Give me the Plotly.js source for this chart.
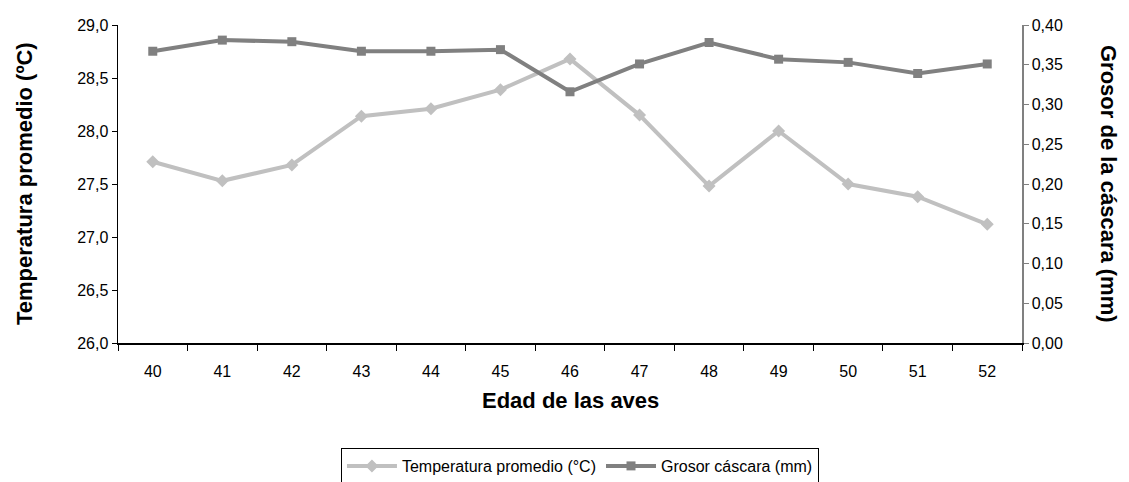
<!DOCTYPE html>
<html>
<head>
<meta charset="utf-8">
<script src="https://cdn.plot.ly/plotly-3.0.1.min.js"></script>
<style>html,body{margin:0;padding:0;background:#fff;}#chart{width:1129px;height:482px;}</style>
</head>
<body>
<div id="chart"></div>
<script>
const edades = ["40","41","42","43","44","45","46","47","48","49","50","51","52"];
const temperatura = [27.71, 27.53, 27.68, 28.14, 28.21, 28.39, 28.68, 28.15, 27.48, 28.00, 27.50, 27.38, 27.12];
const grosor = [0.367, 0.381, 0.379, 0.367, 0.367, 0.369, 0.316, 0.351, 0.378, 0.357, 0.353, 0.339, 0.351];
const tempTicks = [26.0, 26.5, 27.0, 27.5, 28.0, 28.5, 29.0];
const grosorTicks = [0, 0.05, 0.10, 0.15, 0.20, 0.25, 0.30, 0.35, 0.40];
const tituloX = "Edad de las aves";
const tituloY1 = "Temperatura promedio (ºC)";
const tituloY2 = "Grosor de la cáscara (mm)";

const font = "Liberation Sans, Arial, sans-serif";

const traces = [
  {
    x: edades, y: temperatura, name: "Temperatura promedio (°C)",
    type: "scatter", mode: "lines+markers",
    line: {color: "#C0C0C0", width: 4},
    marker: {symbol: "diamond", size: 10, color: "#C0C0C0"},
    yaxis: "y"
  },
  {
    x: edades, y: grosor, name: "Grosor cáscara (mm)",
    type: "scatter", mode: "lines+markers",
    line: {color: "#808080", width: 4},
    marker: {symbol: "square", size: 9, color: "#808080"},
    yaxis: "y2"
  }
];

const layout = {
  width: 1129, height: 482,
  separators: ",.",
  margin: {l: 118, r: 107, t: 25, b: 139, autoexpand: false},
  paper_bgcolor: "#fff", plot_bgcolor: "#fff",
  font: {family: font, size: 16, color: "#000"},
  showlegend: true,
  legend: {
    orientation: "h", x: 0.5137, xanchor: "center", xref: "container",
    y: 1 - 448/482, yanchor: "top", yref: "container",
    bordercolor: "#000", borderwidth: 1, font: {size: 16, family: font},
    itemwidth: 50, tracegroupgap: 0
  },
  xaxis: {
    type: "category", range: [-0.5, 12.5], automargin: false,
    showline: true, linecolor: "#000", linewidth: 1.5,
    ticks: "outside", tickson: "boundaries", ticklen: 6, tickcolor: "#000",
    showgrid: false, zeroline: false,
    tickfont: {size: 16, family: font},
    ticklabelstandoff: 13
  },
  yaxis: {
    range: [26, 29], tickvals: tempTicks, tickformat: ".1f", automargin: false,
    showline: true, linecolor: "#000", linewidth: 1.5,
    ticks: "outside", ticklen: 5, tickcolor: "#000",
    showgrid: false, zeroline: false,
    tickfont: {size: 16, family: font}
  },
  yaxis2: {
    overlaying: "y", side: "right", automargin: false,
    range: [0, 0.4], tickvals: grosorTicks, tickformat: ".2f",
    showline: true, linecolor: "#808080", linewidth: 1.5,
    ticks: "outside", ticklen: 5, tickcolor: "#808080",
    showgrid: false, zeroline: false,
    tickfont: {size: 16, family: font}
  },
  annotations: [
    {
      text: "<b>" + tituloX + "</b>",
      xref: "paper", yref: "paper", x: 0.5, y: 0, yshift: -57,
      xanchor: "center", yanchor: "middle", showarrow: false,
      font: {size: 22, family: font, color: "#000"}
    },
    {
      text: "<b>" + tituloY1 + "</b>", textangle: -90,
      xref: "paper", yref: "paper", x: 0, xshift: -94, y: 0.5,
      xanchor: "center", yanchor: "middle", showarrow: false,
      font: {size: 22, family: font, color: "#000"}
    },
    {
      text: "<b>" + tituloY2 + "</b>", textangle: 90,
      xref: "paper", yref: "paper", x: 1, xshift: 87, y: 0.5,
      xanchor: "center", yanchor: "middle", showarrow: false,
      font: {size: 22, family: font, color: "#000"}
    }
  ]
};

Plotly.newPlot("chart", traces, layout, {displayModeBar: false, staticPlot: true});
</script>
</body>
</html>
